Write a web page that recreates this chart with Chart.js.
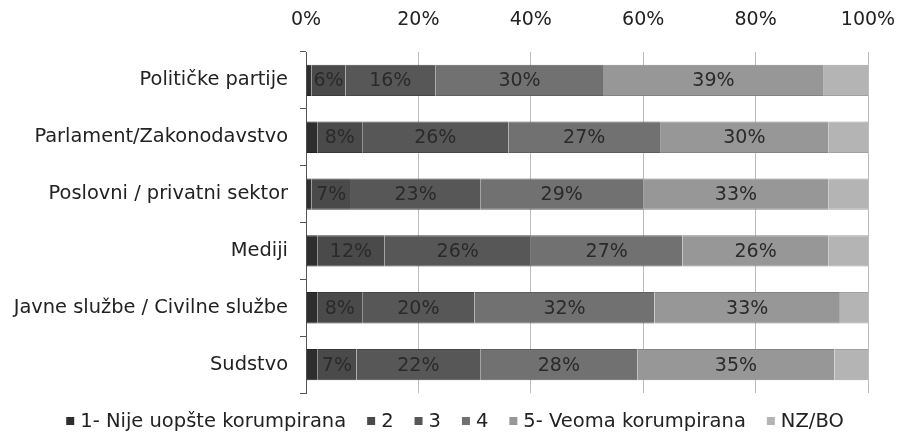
<!DOCTYPE html>
<html>
<head>
<meta charset="utf-8">
<script src="https://cdn.jsdelivr.net/npm/chart.js@4/dist/chart.umd.min.js"></script>
<style>
html,body{margin:0;padding:0;background:#fff;}
#wrap{width:898px;height:437px;}
</style>
</head>
<body>
<div id="wrap"><canvas id="c" width="898" height="437"></canvas></div>
<script>
const categories = ["Političke partije","Parlament/Zakonodavstvo","Poslovni / privatni sektor","Mediji","Javne službe / Civilne službe","Sudstvo"];
const seriesNames = ["1- Nije uopšte korumpirana","2","3","4","5- Veoma korumpirana","NZ/BO"];
const s1 = [1, 2, 1, 2, 2, 2];
const s2 = [6, 8, 7, 12, 8, 7];
const s3 = [16, 26, 23, 26, 20, 22];
const s4 = [30, 27, 29, 27, 32, 28];
const s5 = [39, 30, 33, 26, 33, 35];
const nz = [8, 7, 7, 7, 5, 6];
const xTicks = [0, 20, 40, 60, 80, 100];
const showLabels = [false, true, true, true, true, false];
const colors = ["#2e2e2e","#4a4a4a","#575757","#717171","#979797","#b4b4b4"];
const edgeColors = ["#222222","#3a3a3a","#464646","#5e5e5e","#838383","#a0a0a0"];

const FONT = "'DejaVu Sans', Verdana, sans-serif";
const allSeries = [s1, s2, s3, s4, s5, nz];

const labelPlugin = {
  id: 'barLabels',
  afterDatasetsDraw(chart) {
    const ctx = chart.ctx;
    ctx.save();
    ctx.font = "19px " + FONT;
    ctx.fillStyle = "#2a2a2a";
    ctx.textAlign = "center";
    ctx.textBaseline = "middle";
    chart.data.datasets.forEach((ds, di) => {
      if (!showLabels[di]) return;
      const meta = chart.getDatasetMeta(di);
      meta.data.forEach((el, i) => {
        const x = (el.x + el.base) / 2;
        ctx.fillText(ds.data[i] + "%", x, el.y + 1);
      });
    });
    ctx.restore();
  }
};

// legend drawn from the dataset labels/colours, laid out like the original
const legendPlugin = {
  id: 'customLegend',
  afterDraw(chart) {
    const ctx = chart.ctx;
    ctx.save();
    ctx.font = "19.5px " + FONT;
    ctx.textBaseline = "middle";
    ctx.textAlign = "left";
    const box = 8, boxGap = 6, itemGap = 21;
    const items = chart.data.datasets.map(ds => ({ text: ds.label, color: ds.backgroundColor, w: ctx.measureText(ds.label).width }));
    let total = items.reduce((a, it) => a + box + boxGap + it.w, 0) + itemGap * (items.length - 1);
    let x = 455 - total / 2;
    const y = 421;
    items.forEach(it => {
      ctx.fillStyle = it.color;
      ctx.fillRect(x, y - box / 2, box, box);
      x += box + boxGap;
      ctx.fillStyle = '#222';
      ctx.fillText(it.text, x, y + 1);
      x += it.w + itemGap;
    });
    ctx.restore();
  }
};

new Chart(document.getElementById('c'), {
  type: 'bar',
  data: {
    labels: categories,
    datasets: allSeries.map((d, i) => ({
      label: seriesNames[i],
      data: d,
      backgroundColor: colors[i],
      borderColor: edgeColors[i],
      borderWidth: { top: 1, bottom: 1, left: 0, right: 0 },
      borderSkipped: false,
      barPercentage: 0.55,
      categoryPercentage: 1.0
    }))
  },
  options: {
    indexAxis: 'y',
    responsive: false,
    animation: false,
    devicePixelRatio: 1,
    layout: { padding: { left: 0, right: 30, top: 6, bottom: 44 } },
    plugins: {
      tooltip: { enabled: false },
      legend: { display: false }
    },
    scales: {
      x: {
        position: 'top',
        stacked: true,
        min: 0, max: 100,
        afterBuildTicks: (s) => { s.ticks = xTicks.map(v => ({ value: v })); },
        afterFit: (s) => { s.height = 46; s.paddingRight = 0; s.paddingLeft = 0; },
        ticks: {
          callback: (v) => v + '%',
          color: '#222',
          padding: 21,
          font: { family: FONT, size: 19 }
        },
        grid: { color: '#bdbdbd', drawTicks: false, lineWidth: 1 },
        border: { display: false }
      },
      y: {
        stacked: true,
        afterFit: (s) => { s.width = 306; },
        ticks: {
          color: '#222',
          padding: 12,
          font: { family: FONT, size: 19.4 }
        },
        grid: { drawOnChartArea: false, tickLength: 6, color: '#555', offset: true },
        border: { display: true, color: '#555', width: 1 }
      }
    }
  },
  plugins: [labelPlugin, legendPlugin]
});
</script>
</body>
</html>
